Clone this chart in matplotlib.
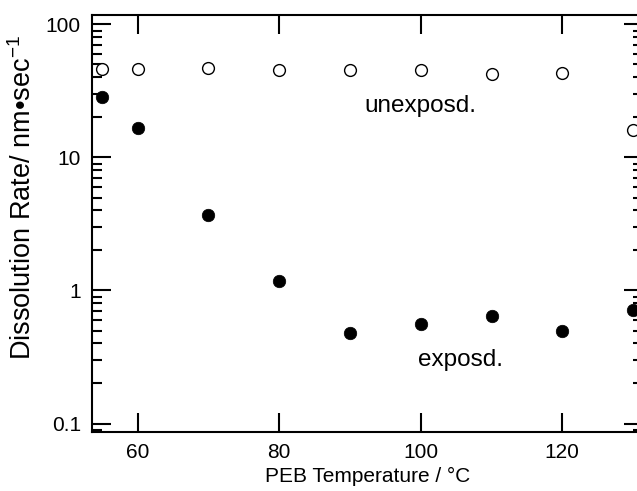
import numpy as np
import matplotlib
matplotlib.use("Agg")
import matplotlib.pyplot as plt
from matplotlib.ticker import LogLocator, NullFormatter, FixedLocator

plt.rcParams['font.family'] = ['Liberation Sans', 'DejaVu Sans']
plt.rcParams['mathtext.fontset'] = 'custom'
plt.rcParams['mathtext.rm'] = 'Liberation Sans'
plt.rcParams['mathtext.it'] = 'Liberation Sans'

# PEB temperatures (°C)
temperature = [55, 60, 70, 80, 90, 100, 110, 120, 130]
# dissolution rates, nm/sec
unexposed = [46.0, 46.5, 47.0, 45.8, 45.5, 45.5, 42.5, 43.0, 16.0]
exposed = [28.6, 16.7, 3.67, 1.17, 0.478, 0.559, 0.646, 0.50, 0.716]

xticks = [60, 80, 100, 120]
yticks = [0.1, 1, 10, 100]
ytick_labels = ['0.1', '1', '10', '100']

fig = plt.figure(figsize=(6.37, 4.91), dpi=100)
ax = fig.add_axes([0.1444, 0.1208, 0.865, 0.8487])

ax.plot(temperature, unexposed, 'o', ms=8.5, mfc='white', mec='black', mew=1.0)
ax.plot(temperature, exposed, 'o', ms=9, mfc='black', mec='black', mew=0.5)

ax.set_yscale('log')
ax.set_xlim(53.56, 131.4)
ax.set_ylim(0.0868, 117.8)

ax.xaxis.set_major_locator(FixedLocator(xticks))
ax.set_xticklabels([str(t) for t in xticks])
ax.yaxis.set_major_locator(FixedLocator(yticks))
ax.set_yticklabels(ytick_labels)
ax.yaxis.set_minor_locator(LogLocator(base=10, subs=np.arange(2, 10), numticks=20))
ax.yaxis.set_minor_formatter(NullFormatter())

for s in ax.spines.values():
    s.set_linewidth(1.5)

ax.tick_params(axis='both', which='major', direction='in', length=14, width=1.5,
               labelsize=15, top=True, right=True, pad=8)
ax.tick_params(axis='y', which='minor', direction='in', length=7, width=1.5,
               right=True)
ax.tick_params(axis='x', which='minor', bottom=False, top=False)

ax.set_xlabel('PEB Temperature / °C', fontsize=15, labelpad=4)
ax.set_ylabel('Dissolution Rate/ nm•sec$^{-1}$', fontsize=19.5)
ax.yaxis.set_label_coords(-0.10, 0.561)

ax.text(92.1, 22.0, 'unexposd.', fontsize=17.5, ha='left', va='baseline')
ax.text(99.6, 0.270, 'exposd.', fontsize=17.5, ha='left', va='baseline')

fig.savefig('out.png', dpi=100)
